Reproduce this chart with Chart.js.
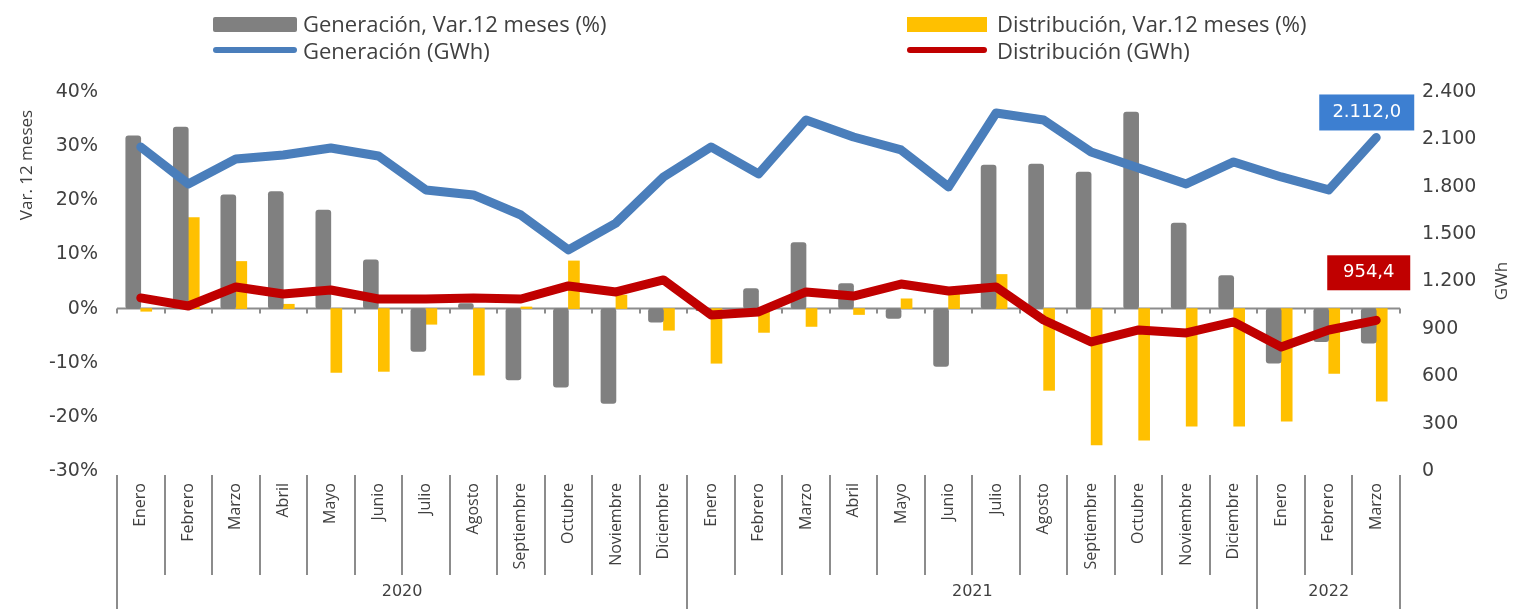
<!DOCTYPE html>
<html>
<head>
<meta charset="utf-8">
<script src="https://cdn.jsdelivr.net/npm/chart.js@4.4.1/dist/chart.umd.min.js"></script>
<style>
  body { margin: 0; background: #fff; }
  #wrap { position: relative; width: 1519px; height: 609px; }
  #myChart { position: absolute; left: 0; top: 0; }
  .lg { position: absolute; font-family: "Open Sans", sans-serif; font-size: 22px; color: #404040; line-height: 26px; white-space: nowrap; }
  .sw { position: absolute; }
</style>
</head>
<body>
<div id="wrap">
  <canvas id="myChart" width="1519" height="609"></canvas>
  <div class="sw" style="left:213px;top:17px;width:84px;height:15px;background:#808080;border-radius:2px"></div>
  <div class="lg" style="left:303px;top:10px">Generación, Var.12 meses (%)</div>
  <div class="sw" style="left:213px;top:47px;width:84px;height:6px;background:#4a7ebb;border-radius:3px"></div>
  <div class="lg" style="left:303px;top:37px">Generación (GWh)</div>
  <div class="sw" style="left:907px;top:17px;width:80px;height:15px;background:#ffc000"></div>
  <div class="lg" style="left:997px;top:10px">Distribución, Var.12 meses (%)</div>
  <div class="sw" style="left:907px;top:47px;width:80px;height:6px;background:#c00000;border-radius:3px"></div>
  <div class="lg" style="left:997px;top:37px">Distribución (GWh)</div>
</div>
<script>
var months = ["Enero", "Febrero", "Marzo", "Abril", "Mayo", "Junio", "Julio", "Agosto", "Septiembre", "Octubre", "Noviembre", "Diciembre",
  "Enero", "Febrero", "Marzo", "Abril", "Mayo", "Junio", "Julio", "Agosto", "Septiembre", "Octubre", "Noviembre", "Diciembre",
  "Enero", "Febrero", "Marzo"];
var yearLabels = ["2020", "2021", "2022"];
var yearSpans = [12, 12, 3];

// Var. 12 meses (%)
var genVar = [31.9, 33.5, 21.0, 21.6, 18.2, 9.0, -7.9, 0.9, -13.2, -14.5, -17.5, -2.5,
  -0.4, 3.7, 12.2, 4.6, -1.8, -10.7, 26.5, 26.7, 25.2, 36.3, 15.8, 6.1,
  -10.1, -6.1, -6.4];
var distVar = [-0.5, 16.8, 8.7, 0.8, -11.8, -11.6, -2.9, -12.3, 0.3, 8.8, 2.5, -4.0,
  -10.1, -4.4, -3.3, -1.1, 1.8, 3.3, 6.3, -15.1, -25.2, -24.3, -21.7, -21.7,
  -20.8, -12.0, -17.1];

// GWh
var genGwh = [2052, 1818, 1976, 2001, 2045, 1995, 1780, 1748, 1621, 1400, 1570, 1862,
  2052, 1881, 2223, 2115, 2033, 1799, 2267, 2223, 2020, 1919, 1818, 1957,
  1862, 1780, 2112.0];
var distGwh = [1096, 1045, 1165, 1121, 1146, 1089, 1089, 1096, 1089, 1172, 1134, 1210,
  988, 1007, 1134, 1108, 1184, 1140, 1165, 956, 817, 893, 874, 944,
  785, 893, 954.4];

var leftTicks = { min: -30, max: 40, step: 10 };
var rightTicks = { min: 0, max: 2400, step: 300 };

function fmtEs(v, dec) {
  var parts = v.toFixed(dec).split(".");
  parts[0] = parts[0].replace(/\B(?=(\d{3})+(?!\d))/g, ".");
  return parts.join(",");
}

var txt = "#404040";
var lineGray = "#8c8c8c";

var deco = {
  id: "deco",
  beforeDatasetsDraw: function (chart) {
    var c = chart.ctx, a = chart.chartArea;
    var y0 = chart.scales.y.getPixelForValue(0);
    var w = (a.right - a.left) / months.length;
    c.save();
    c.strokeStyle = lineGray;
    c.lineWidth = 2;
    c.beginPath();
    c.moveTo(a.left, y0);
    c.lineTo(a.right, y0);
    for (var i = 0; i <= months.length; i++) {
      var x = Math.round(a.left + i * w);
      c.moveTo(x, y0);
      c.lineTo(x, y0 + 5);
    }
    c.stroke();
    c.restore();
  },
  afterDraw: function (chart) {
    var c = chart.ctx, a = chart.chartArea;
    var w = (a.right - a.left) / months.length;
    c.save();
    c.strokeStyle = lineGray;
    c.lineWidth = 2;
    c.beginPath();
    // month separators
    for (var i = 0; i <= months.length; i++) {
      var x = Math.round(a.left + i * w);
      c.moveTo(x, a.bottom + 4);
      c.lineTo(x, a.bottom + 104);
    }
    // year separators
    var idx = 0;
    c.moveTo(a.left, a.bottom + 4);
    c.lineTo(a.left, 609);
    for (var k = 0; k < yearSpans.length; k++) {
      idx += yearSpans[k];
      var xb = Math.round(a.left + idx * w);
      c.moveTo(xb, a.bottom + 4);
      c.lineTo(xb, 609);
    }
    c.stroke();

    // year labels
    c.fillStyle = txt;
    c.font = "16px 'DejaVu Sans'";
    c.textAlign = "center";
    c.textBaseline = "middle";
    var start = 0;
    for (var j = 0; j < yearLabels.length; j++) {
      var xm = a.left + (start + yearSpans[j] / 2) * w;
      c.fillText(yearLabels[j], xm, 592);
      start += yearSpans[j];
    }

    // axis titles
    c.font = "17px 'Open Sans'";
    c.save();
    c.translate(27, 165);
    c.rotate(-Math.PI / 2);
    c.fillText("Var. 12 meses", 0, 0);
    c.restore();
    c.save();
    c.translate(1502, 281);
    c.rotate(-Math.PI / 2);
    c.fillText("GWh", 0, 0);
    c.restore();

    // value labels on last points
    var last = months.length - 1;
    var pg = chart.getDatasetMeta(2).data[last];
    var pd = chart.getDatasetMeta(3).data[last];
    c.font = "18px 'DejaVu Sans'";
    c.fillStyle = "#3d7fd1";
    c.fillRect(pg.x - 57, pg.y - 43, 95, 36);
    c.fillStyle = "#ffffff";
    c.fillText(fmtEs(genGwh[last], 1), pg.x - 57 + 47.5, pg.y - 43 + 18);
    c.fillStyle = "#c00000";
    c.fillRect(pd.x - 49, pd.y - 65, 83, 35);
    c.fillStyle = "#ffffff";
    c.fillText(fmtEs(distGwh[last], 1), pd.x - 49 + 41.5, pd.y - 65 + 17.5);
    c.restore();
  }
};

var ctx = document.getElementById("myChart");
var myChart = new Chart(ctx, {
  data: {
    labels: months,
    datasets: [{
      type: "bar",
      label: "Generación, Var.12 meses (%)",
      data: genVar,
      backgroundColor: "#808080",
      barThickness: 15,
      borderRadius: 3,
      borderSkipped: false,
      yAxisID: "y",
      order: 2
    },
    {
      type: "bar",
      label: "Distribución, Var.12 meses (%)",
      data: distVar,
      backgroundColor: "#ffc000",
      barThickness: 11,
      yAxisID: "y",
      order: 2
    },
    {
      type: "line",
      label: "Generación (GWh)",
      data: genGwh,
      borderColor: "#4a7ebb",
      borderWidth: 9,
      pointRadius: 0,
      tension: 0,
      borderJoinStyle: "round",
      borderCapStyle: "round",
      yAxisID: "y2",
      order: 1
    },
    {
      type: "line",
      label: "Distribución (GWh)",
      data: distGwh,
      borderColor: "#c00000",
      borderWidth: 9,
      pointRadius: 0,
      tension: 0,
      borderJoinStyle: "round",
      borderCapStyle: "round",
      yAxisID: "y2",
      order: 0
    }]
  },
  options: {
    responsive: false,
    animation: false,
    layout: { padding: { top: 92, left: 0, right: 0, bottom: 0 } },
    plugins: {
      legend: { display: false },
      tooltip: { enabled: false }
    },
    scales: {
      x: {
        grid: { display: false, drawTicks: false },
        border: { display: false },
        ticks: {
          autoSkip: false,
          minRotation: 90,
          maxRotation: 90,
          padding: 12,
          color: txt,
          font: { family: "Open Sans", size: 16 }
        },
        afterFit: function (scale) { scale.height = 138; }
      },
      y: {
        position: "left",
        min: leftTicks.min,
        max: leftTicks.max,
        grid: { display: false, drawTicks: false },
        border: { display: false },
        ticks: {
          stepSize: leftTicks.step,
          padding: 19,
          color: txt,
          font: { family: "DejaVu Sans", size: 19 },
          callback: function (v) { return v + "%"; }
        },
        afterFit: function (scale) { scale.width = 117; }
      },
      y2: {
        position: "right",
        min: rightTicks.min,
        max: rightTicks.max,
        grid: { display: false, drawTicks: false },
        border: { display: false },
        ticks: {
          stepSize: rightTicks.step,
          padding: 22,
          color: txt,
          font: { family: "DejaVu Sans", size: 19 },
          callback: function (v) { return fmtEs(v, 0); }
        },
        afterFit: function (scale) { scale.width = 119; }
      }
    }
  },
  plugins: [deco]
});
</script>
</body>
</html>
